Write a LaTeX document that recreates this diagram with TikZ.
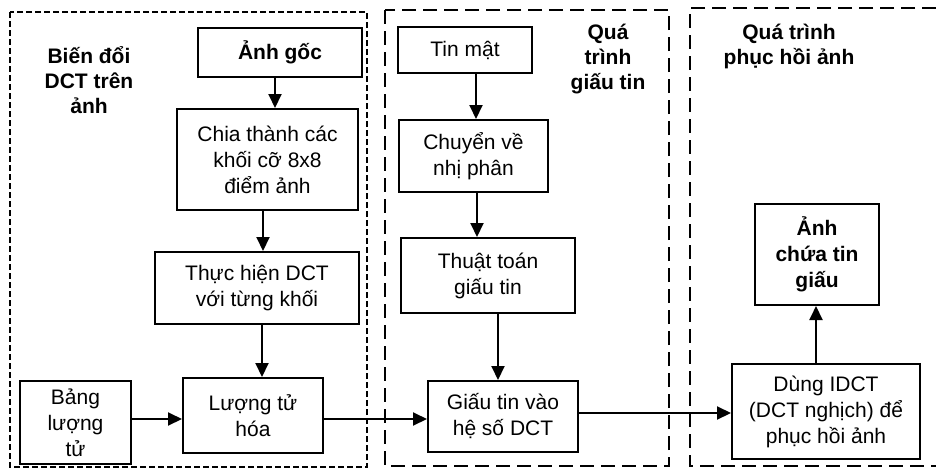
\documentclass[tikz,border=0pt]{standalone}
\usepackage{fontspec}
\setmainfont{Liberation Sans}
\usetikzlibrary{arrows.meta, positioning}

\begin{document}
\begin{tikzpicture}[
  x=1pt, y=-1pt,
  node distance=30pt,
  box/.style={rectangle, draw=black, line width=2pt, inner sep=2pt, align=center, font=\fontsize{21}{26}\selectfont},
  head/.style={box, font=\fontsize{21}{26}\selectfont\bfseries},
  lbl/.style={align=center, inner sep=0pt, font=\fontsize{21}{25}\selectfont\bfseries},
  grpa/.style={line width=2.2pt, dash pattern=on 6pt off 3pt},
  grpb/.style={line width=2.4pt, dash pattern=on 14pt off 7pt},
  arr/.style={-{Triangle[length=14pt,width=13pt]}, line width=2pt}
]
\useasboundingbox (0,0) rectangle (936,471);

\draw[grpa] (10,12) rectangle (367,467);
\draw[grpb] (385,10) rectangle (669,466);
\draw[grpb] (936,8) -- (690,8) -- (690,466) -- (936,466);

\node[lbl] (lbldct) at (89,80) {Biến đổi\\DCT trên\\ảnh};
\node[lbl] (lblgiau) at (608,59) {Quá\\trình\\giấu tin};
\node[lbl] (lblphuc) at (789,46) {Quá trình\\phục hồi ảnh};

\node[head, minimum width=164pt, minimum height=49pt] (anhgoc) at (280,52.5) {Ảnh gốc};
\node[box, minimum width=181pt, minimum height=101pt, below=30pt of anhgoc, xshift=-12.5pt] (chia) {Chia thành các\\khối cỡ 8x8\\điểm ảnh};
\node[box, minimum width=204pt, minimum height=72pt, below=40pt of chia, xshift=-10.5pt] (thuchien) {Thực hiện DCT\\với từng khối};
\node[box, minimum width=140pt, minimum height=75pt, below=52pt of thuchien, xshift=-4pt] (luongtu) {Lượng tử\\hóa};
\node[box, minimum width=111pt, minimum height=83pt, left=50pt of luongtu, yshift=-7pt] (bang) {Bảng\\lượng\\tử};

\node[box, minimum width=134pt, minimum height=46pt] (tinmat) at (465,50) {Tin mật};
\node[box, minimum width=149pt, minimum height=72pt, below=45pt of tinmat, xshift=8.5pt] (chuyen) {Chuyển về\\nhị phân};
\node[box, minimum width=174pt, minimum height=75pt, below=44pt of chuyen, xshift=14.5pt] (thuattoan) {Thuật toán\\giấu tin};
\node[box, minimum width=150pt, minimum height=71pt, below=66pt of thuattoan, xshift=15pt] (giau) {Giấu tin vào\\hệ số DCT};

\node[box, minimum width=188pt, minimum height=95pt, right=152pt of giau, yshift=5pt] (dung) {Dùng IDCT\\(DCT nghịch) để\\phục hồi ảnh};
\node[head, minimum width=124pt, minimum height=101pt, above=57pt of dung, xshift=-9pt] (anhchua) {Ảnh\\chứa tin\\giấu};

\draw[arr] ([xshift=-5pt]anhgoc.south) -- ([xshift=7.5pt]chia.north);
\draw[arr] ([xshift=-4.5pt]chia.south) -- ([xshift=6pt]thuchien.north);
\draw[arr] ([xshift=5pt]thuchien.south) -- ([xshift=9pt]luongtu.north);
\draw[arr] ([yshift=3.5pt]bang.east) -- ([yshift=-3.5pt]luongtu.west);
\draw[arr] ([yshift=-3.5pt]luongtu.east) -- ([yshift=-2.5pt]giau.west);
\draw[arr] ([xshift=11pt]tinmat.south) -- ([xshift=2.5pt]chuyen.north);
\draw[arr] ([xshift=3.5pt]chuyen.south) -- ([xshift=-11pt]thuattoan.north);
\draw[arr] ([xshift=10pt]thuattoan.south) -- ([xshift=-5pt]giau.north);
\draw[arr] ([yshift=3.5pt]giau.east) -- ([yshift=-1.5pt]dung.west);
\draw[arr] ([xshift=-10pt]dung.north) -- ([xshift=-1pt]anhchua.south);
\end{tikzpicture}
\end{document}
